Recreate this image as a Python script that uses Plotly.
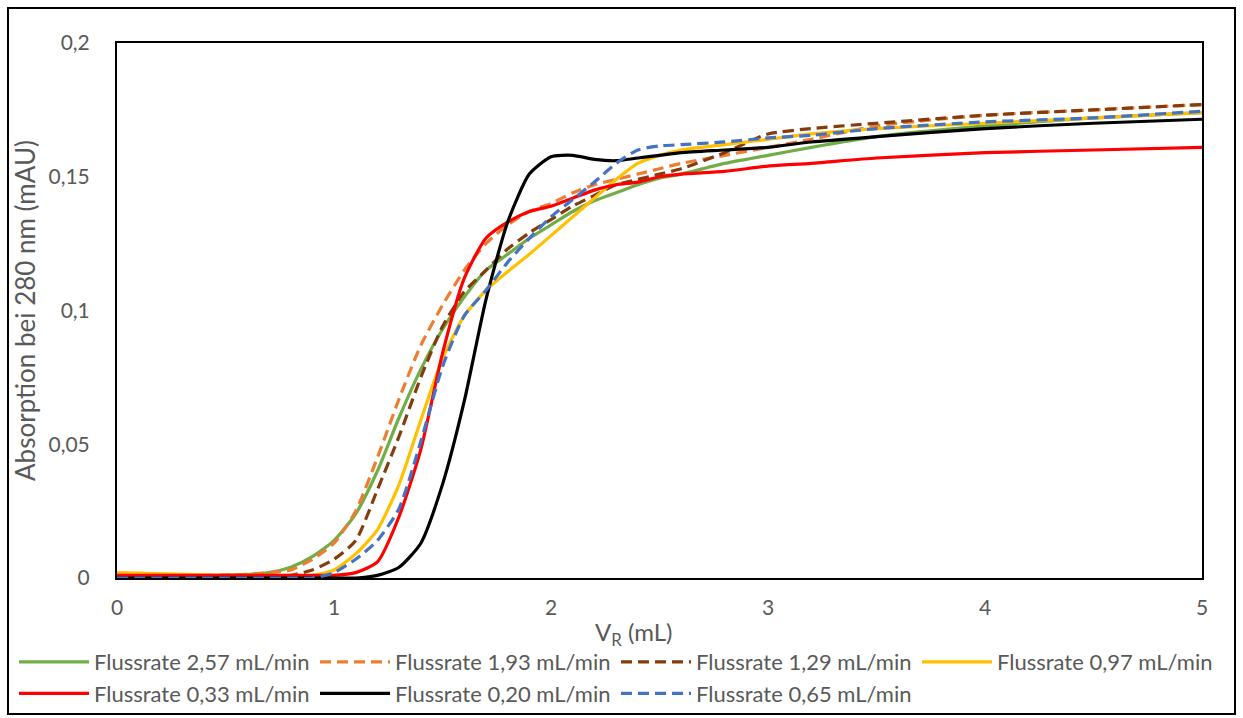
import plotly.graph_objects as go

# Retention volume grid (mL)
v_r = [0, 0.5, 0.7, 0.8, 0.9, 1.0, 1.1, 1.2, 1.3, 1.4, 1.5, 1.6, 1.7, 1.8, 1.9,
       2.0, 2.1, 2.2, 2.3, 2.4, 2.5, 2.6, 2.8, 3.0, 3.2, 3.5, 4.0, 4.5, 5.0]

flow_257 = [0.001, 0.001, 0.002, 0.004, 0.008, 0.014, 0.024, 0.040, 0.060, 0.078, 0.093, 0.105, 0.115, 0.121, 0.127,
            0.132, 0.137, 0.141, 0.144, 0.147, 0.1495, 0.151, 0.155, 0.158, 0.161, 0.165, 0.169, 0.172, 0.174]
flow_193 = [0.001, 0.001, 0.002, 0.003, 0.007, 0.013, 0.025, 0.045, 0.067, 0.087, 0.102, 0.115, 0.125, 0.132, 0.137,
            0.140, 0.144, 0.147, 0.149, 0.151, 0.153, 0.155, 0.158, 0.161, 0.164, 0.169, 0.173, 0.175, 0.177]
flow_129 = [0.001, 0.001, 0.001, 0.001, 0.003, 0.007, 0.014, 0.033, 0.053, 0.075, 0.094, 0.107, 0.115, 0.123, 0.129,
            0.134, 0.139, 0.143, 0.147, 0.149, 0.151, 0.153, 0.159, 0.166, 0.168, 0.170, 0.173, 0.175, 0.177]
flow_097 = [0.002, 0.001, 0.001, 0.001, 0.001, 0.003, 0.009, 0.018, 0.035, 0.059, 0.082, 0.098, 0.1075, 0.1145, 0.121,
            0.128, 0.135, 0.142, 0.149, 0.155, 0.158, 0.160, 0.162, 0.164, 0.166, 0.168, 0.170, 0.172, 0.174]
flow_033 = [0.001, 0.001, 0.001, 0.001, 0.001, 0.001, 0.002, 0.006, 0.023, 0.048, 0.084, 0.112, 0.127, 0.133, 0.137,
            0.139, 0.142, 0.145, 0.147, 0.148, 0.150, 0.151, 0.152, 0.154, 0.155, 0.157, 0.159, 0.160, 0.161]
flow_020 = [0.000, 0.000, 0.000, 0.000, 0.000, 0.000, 0.000, 0.001, 0.004, 0.013, 0.035, 0.066, 0.104, 0.133, 0.151,
            0.1575, 0.158, 0.1565, 0.156, 0.157, 0.158, 0.159, 0.160, 0.161, 0.163, 0.165, 0.168, 0.170, 0.1715]
flow_065 = [0.000, 0.000, 0.000, 0.000, 0.000, 0.002, 0.007, 0.014, 0.026, 0.051, 0.079, 0.098, 0.1075, 0.118, 0.127,
            0.135, 0.1415, 0.148, 0.155, 0.160, 0.1615, 0.162, 0.163, 0.1645, 0.1655, 0.168, 0.1705, 0.172, 0.1745]

series_names = ["Flussrate 2,57 mL/min", "Flussrate 1,93 mL/min", "Flussrate 1,29 mL/min",
                "Flussrate 0,97 mL/min", "Flussrate 0,33 mL/min", "Flussrate 0,20 mL/min",
                "Flussrate 0,65 mL/min"]
series_values = [flow_257, flow_193, flow_129, flow_097, flow_033, flow_020, flow_065]
series_colors = ["#70AD47", "#ED7D31", "#843C0C", "#FFC000", "#FF0000", "#000000", "#4472C4"]
series_dash = ["solid", "11px,6px", "11px,6px", "solid", "solid", "solid", "11px,6px"]

y_ticks = [0, 0.05, 0.1, 0.15, 0.2]
y_ticklabels = ["0", "0,05", "0,1", "0,15", "0,2"]
x_ticks = [0, 1, 2, 3, 4, 5]
x_ticklabels = ["0", "1", "2", "3", "4", "5"]

FONT = "Lato"
GRAY = "#595959"

fig = go.Figure()
for name, vals, col, dash in zip(series_names, series_values, series_colors, series_dash):
    fig.add_trace(go.Scatter(
        x=v_r, y=vals, mode="lines", name=name,
        line=dict(color=col, width=3.2, dash=dash, shape="spline", smoothing=0.6),
    ))

W, H = 1243, 718
L, R, T, B = 117, 1202, 43, 578
pw, ph = R - L, B - T

def px(xp):
    return (xp - L) / pw

def py(yp):
    return (B - yp) / ph

fig.add_shape(type="rect", xref="paper", yref="paper",
              x0=px(8), x1=px(1235), y0=py(714), y1=py(8),
              line=dict(color="#000000", width=2), fillcolor="rgba(0,0,0,0)", layer="below")

fig.add_annotation(xref="paper", yref="paper", x=px(633), y=py(633),
                   xanchor="center", yanchor="middle", showarrow=False,
                   text="V<sub>R</sub> (mL)", font=dict(family=FONT, size=24, color=GRAY))

fig.update_layout(
    width=W, height=H,
    margin=dict(l=L, r=W - R, t=T, b=H - B, autoexpand=False),
    paper_bgcolor="white", plot_bgcolor="white",
    font=dict(family=FONT, size=21, color=GRAY),
    showlegend=True,
    legend=dict(orientation="h", x=px(14), y=py(641), xanchor="left", yanchor="top",
                entrywidth=216, entrywidthmode="pixels", itemwidth=70,
                font=dict(family=FONT, size=22, color=GRAY),
                bgcolor="rgba(0,0,0,0)", tracegroupgap=0),
    xaxis=dict(range=[0, 5], tickvals=x_ticks, ticktext=x_ticklabels,
               showgrid=False, zeroline=False, showline=True, linecolor="#000000",
               linewidth=2, mirror=True, ticks="", ticklabelstandoff=10,
               tickfont=dict(family=FONT, size=21, color=GRAY)),
    yaxis=dict(range=[0, 0.2], tickvals=y_ticks, ticktext=y_ticklabels,
               showgrid=False, zeroline=False, showline=True, linecolor="#000000",
               linewidth=2, mirror=True, ticks="", ticklabelstandoff=21,
               tickfont=dict(family=FONT, size=21, color=GRAY),
               title=dict(text="Absorption bei 280 nm (mAU)", standoff=5,
                          font=dict(family=FONT, size=26, color=GRAY))),
)

fig.write_html("out.html")
